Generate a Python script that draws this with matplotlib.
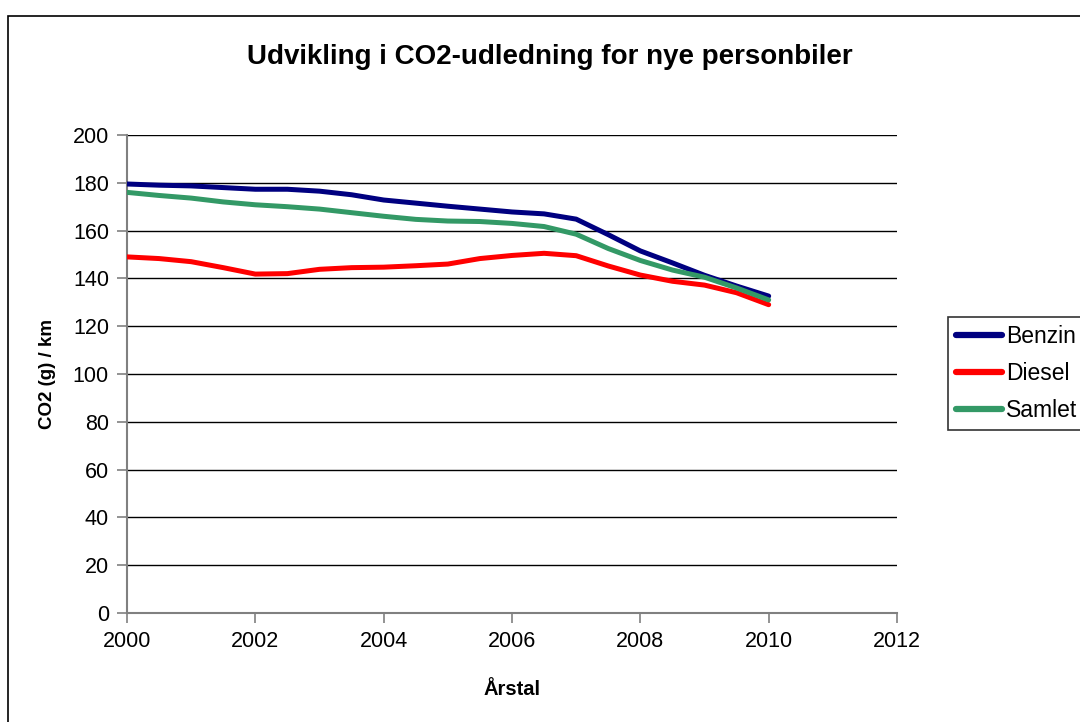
import matplotlib
matplotlib.use("Agg")
import matplotlib.pyplot as plt
from matplotlib.patches import Rectangle

plt.rcParams['font.family'] = ['Liberation Sans', 'DejaVu Sans']

years = [2000, 2000.5, 2001, 2001.5, 2002, 2002.5, 2003, 2003.5, 2004, 2004.5,
         2005, 2005.5, 2006, 2006.5, 2007, 2007.5, 2008, 2008.5, 2009, 2009.5, 2010]
benzin = [179.5, 179.0, 178.7, 178.0, 177.3, 177.3, 176.5, 175.0, 172.8, 171.5,
          170.2, 169.0, 167.8, 167.0, 164.8, 158.3, 151.5, 146.5, 141.3, 136.8, 132.6]
diesel = [149.0, 148.3, 147.0, 144.5, 141.8, 142.0, 143.8, 144.5, 144.7, 145.3,
          146.0, 148.3, 149.6, 150.5, 149.5, 145.2, 141.4, 138.8, 137.2, 134.0, 129.0]
samlet = [176.0, 174.7, 173.6, 172.0, 170.8, 170.0, 169.0, 167.5, 166.0, 164.7,
          164.0, 163.8, 163.0, 161.7, 158.5, 152.5, 147.5, 143.5, 140.5, 136.0, 131.0]
series_names = ["Benzin", "Diesel", "Samlet"]
series_colors = ["#000080", "#FF0000", "#339966"]
xticks = [2000, 2002, 2004, 2006, 2008, 2010, 2012]
yticks = [0, 20, 40, 60, 80, 100, 120, 140, 160, 180, 200]

fig = plt.figure(figsize=(10.8, 7.22), dpi=100)
ax = fig.add_axes([127/1080, 1 - 613/722, (897-127)/1080, (613-135)/722])

for vals, name, col in zip([benzin, diesel, samlet], series_names, series_colors):
    ax.plot(years, vals, color=col, lw=3.6, label=name, solid_capstyle='round',
            solid_joinstyle='round', zorder=3)

ax.set_xlim(2000, 2012)
ax.set_ylim(0, 200)
ax.set_xticks(xticks)
ax.set_yticks(yticks)
ax.tick_params(axis='both', labelsize=15.5, direction='out', length=7, width=1.2,
               color='#808080', pad=6)
ax.yaxis.grid(True, color='black', lw=1.0)
ax.set_axisbelow(True)
for s in ['top', 'right']:
    ax.spines[s].set_visible(False)
for s in ['left', 'bottom']:
    ax.spines[s].set_color('#808080')
    ax.spines[s].set_linewidth(1.5)
    ax.spines[s].set_zorder(2)

ax.set_xlabel("Årstal", fontsize=14.5, fontweight='bold', labelpad=20)
ax.set_ylabel("CO2 (g) / km", fontsize=13.5, fontweight='bold', labelpad=12)
fig.text(550/1080, 1 - 57/722, "Udvikling i CO2-udledning for nye personbiler",
         ha='center', va='center', fontsize=20, fontweight='bold')

leg = fig.legend(loc='upper left', bbox_to_anchor=(948/1080, 1 - 317/722),
                 fontsize=16.5, frameon=True, fancybox=False, edgecolor='black',
                 handlelength=2.0, handletextpad=0.2, borderpad=0.35,
                 labelspacing=0.6, borderaxespad=0)
leg.get_frame().set_linewidth(1.2)
for h in leg.get_lines():
    h.set_linewidth(4.5)

fig.patches.append(Rectangle((7.5/1080, -0.1), 1.2, 1 - 15.5/722 + 0.1,
                             transform=fig.transFigure, fill=False,
                             edgecolor='black', lw=1.2))

fig.savefig("out.png", dpi=100)
